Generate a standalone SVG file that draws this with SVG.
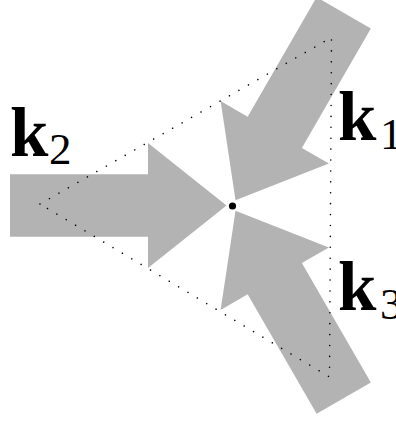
<svg xmlns="http://www.w3.org/2000/svg" width="396" height="421" viewBox="0 0 396 421">
  <style>
    .arrow { fill: #b3b3b3; stroke: none; }
    .tri { fill: none; stroke: #000; stroke-width: 1.6; stroke-linecap: round; stroke-dasharray: 0.01 10.9; }
    .k { font-family: "Liberation Serif", "DejaVu Serif", serif; font-weight: bold; font-size: 69px; fill: #000; }
    .sub { font-family: "Liberation Serif", "DejaVu Serif", serif; font-size: 45px; fill: #000; }
  </style>
  <defs>
    <polygon id="bigArrow" points="-222.5,-31.3 -84.5,-31.3 -84.5,-62.5 -6,0 -84.5,62.5 -84.5,31.3 -222.5,31.3"/>
  </defs>
  <g id="connectors">
    <use id="arrow2" href="#bigArrow" class="arrow" transform="translate(232.5,205.5)"/>
    <use id="arrow1" href="#bigArrow" class="arrow" transform="translate(232.5,205.5) rotate(120)"/>
    <use id="arrow3" href="#bigArrow" class="arrow" transform="translate(232.5,205.5) rotate(-120)"/>
    <polygon id="triangle" class="tri" points="40,204 331.5,37.5 329.5,377"/>
  </g>
  <g id="center">
    <circle cx="232.5" cy="206" r="3.6" fill="#000"/>
  </g>
  <g id="label-k1">
    <text class="k" x="338" y="140">k</text>
    <text class="sub" x="380" y="149">1</text>
  </g>
  <g id="label-k2">
    <text class="k" x="10" y="156">k</text>
    <text class="sub" x="49" y="164">2</text>
  </g>
  <g id="label-k3">
    <text class="k" x="338" y="310">k</text>
    <text class="sub" x="380" y="319">3</text>
  </g>
</svg>
